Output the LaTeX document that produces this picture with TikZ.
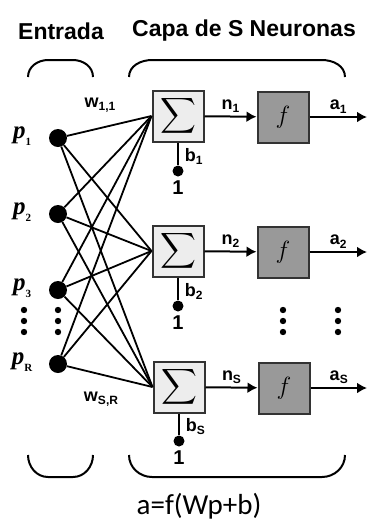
\documentclass[tikz,border=0pt]{standalone}
\usepackage{amsmath}
\usepackage{fontspec}
\setmainfont{Liberation Sans}
\newfontfamily\formulafont{Carlito}
\newfontfamily\inputfont{Liberation Serif}
\usepackage{tikz}
\usetikzlibrary{
    calc,
    arrows.meta,
    positioning
}
\newcommand{\lsub}[1]{\raisebox{-0.35ex}{\fontsize{12}{12}\selectfont #1}}
\newcommand{\psub}[1]{\raisebox{-0.6ex}{\fontsize{11}{11}\selectfont\upshape #1}}
\tikzset{
    sumbox/.style={draw=black!80, line width=2pt, fill=black!7, minimum size=51pt, inner sep=0pt},
    actbox/.style={draw=black!80, line width=2pt, fill=black!40, minimum size=51pt, inner sep=0pt},
    indot/.style={circle, fill=black, inner sep=0pt, minimum size=18pt},
    biasdot/.style={circle, fill=black, inner sep=0pt, minimum size=11pt},
    wire/.style={line width=1.8pt},
    sig/.style={line width=2pt, -{Latex[length=10pt, width=11pt]}},
    lbl/.style={font=\fontsize{18}{18}\selectfont\bfseries, inner sep=1pt},
    onelbl/.style={font=\fontsize{20}{20}\selectfont\bfseries, inner sep=0pt},
    inlbl/.style={font=\inputfont\fontsize{25}{25}\selectfont\bfseries\itshape},
    head/.style={font=\fontsize{23}{24}\selectfont\bfseries},
    brace/.style={line width=2pt}
}

\begin{document}
\begin{tikzpicture}[x=1pt, y=-1pt]
        \useasboundingbox (0,0) rectangle (367,523);

        % titles and brackets
        \node[head] (tin) at (61,31) {Entrada};
        \node[head] (tlay) at (244,31) {Capa de S Neuronas};
        \draw[brace] (28,77) to[out=90, in=180] (48,60) -- (73,60) to[out=0, in=90] (93,77);
        \draw[brace] (129,77) to[out=90, in=180] (152,60) -- (322,60) to[out=0, in=90] (345,77);
        \draw[brace] (28,455) to[out=-90, in=180] (48,477) -- (73,477) to[out=0, in=-90] (93,455);
        \draw[brace] (129,455) to[out=-90, in=180] (152,477) -- (322,477) to[out=0, in=-90] (345,455);

        % inputs
        \node[indot] (p1) at (58,138) {};
        \node[indot] (p2) at (58,214) {};
        \node[indot] (p3) at (58,290) {};
        \node[indot] (pR) at (58,364) {};
        \node[inlbl] at (22,136) {p\psub{1}};
        \node[inlbl] at (22,212) {p\psub{2}};
        \node[inlbl] at (22,288) {p\psub{3}};
        \node[inlbl] at (22,362) {p\psub{R}};
        \foreach \x in {24,58,283,338}
            \foreach \y in {310,321,332}
                \fill (\x,\y) circle (3.2pt);

        % neurons
        \node[sumbox] (s1) at (178,116) {\fontsize{24}{26}\selectfont$\displaystyle\sum$};
        \node[sumbox] (s2) at (178,251) {\fontsize{24}{26}\selectfont$\displaystyle\sum$};
        \node[sumbox] (s3) at (179,387) {\fontsize{24}{26}\selectfont$\displaystyle\sum$};
        \node[actbox] (f1) at (283,117) {\fontsize{24}{24}\selectfont$f$};
        \node[actbox] (f2) at (283,252) {\fontsize{24}{24}\selectfont$f$};
        \node[actbox] (f3) at (284,388) {\fontsize{24}{24}\selectfont$f$};

        \foreach \i in {p1,p2,p3,pR}
            \foreach \j in {s1,s2,s3}
                \draw[wire] (\i) -- (\j.west);
        \node[lbl] (w11) at (100,105) {w\lsub{1,1}};
        \node[lbl] (wSR) at (101,399) {w\lsub{S,R}};

        \draw[sig] (s1) to node[lbl, above=2pt]{n\lsub{1}} (f1);
        \draw[sig] (s2) to node[lbl, above=2pt]{n\lsub{2}} (f2);
        \draw[sig] (s3) to node[lbl, above=2pt]{n\lsub{S}} (f3);
        \coordinate (o1) at (367,117);
        \coordinate (o2) at (367,252);
        \coordinate (o3) at (367,388);
        \draw[sig] (f1) to node[lbl, above=2pt]{a\lsub{1}} (o1);
        \draw[sig] (f2) to node[lbl, above=2pt]{a\lsub{2}} (o2);
        \draw[sig] (f3) to node[lbl, above=2pt]{a\lsub{S}} (o3);

        % biases
        \node[biasdot] (d1) at (178,171) {};
        \node[biasdot] (d2) at (178,306) {};
        \node[biasdot] (d3) at (179,441) {};
        \draw[wire] (s1) -- (d1) node[lbl, pos=0.6, right=5pt]{b\lsub{1}};
        \draw[wire] (s2) -- (d2) node[lbl, pos=0.6, right=5pt]{b\lsub{2}};
        \draw[wire] (s3) -- (d3) node[lbl, pos=0.6, right=5pt]{b\lsub{S}};
        \node[onelbl, below=4pt of d1] {1};
        \node[onelbl, below=4pt of d2] {1};
        \node[onelbl, below=4pt of d3] {1};

        \node[font=\formulafont\fontsize{29}{30}\selectfont] (eq) at (199,506) {a=f(Wp+b)};
    \end{tikzpicture}
\end{document}
